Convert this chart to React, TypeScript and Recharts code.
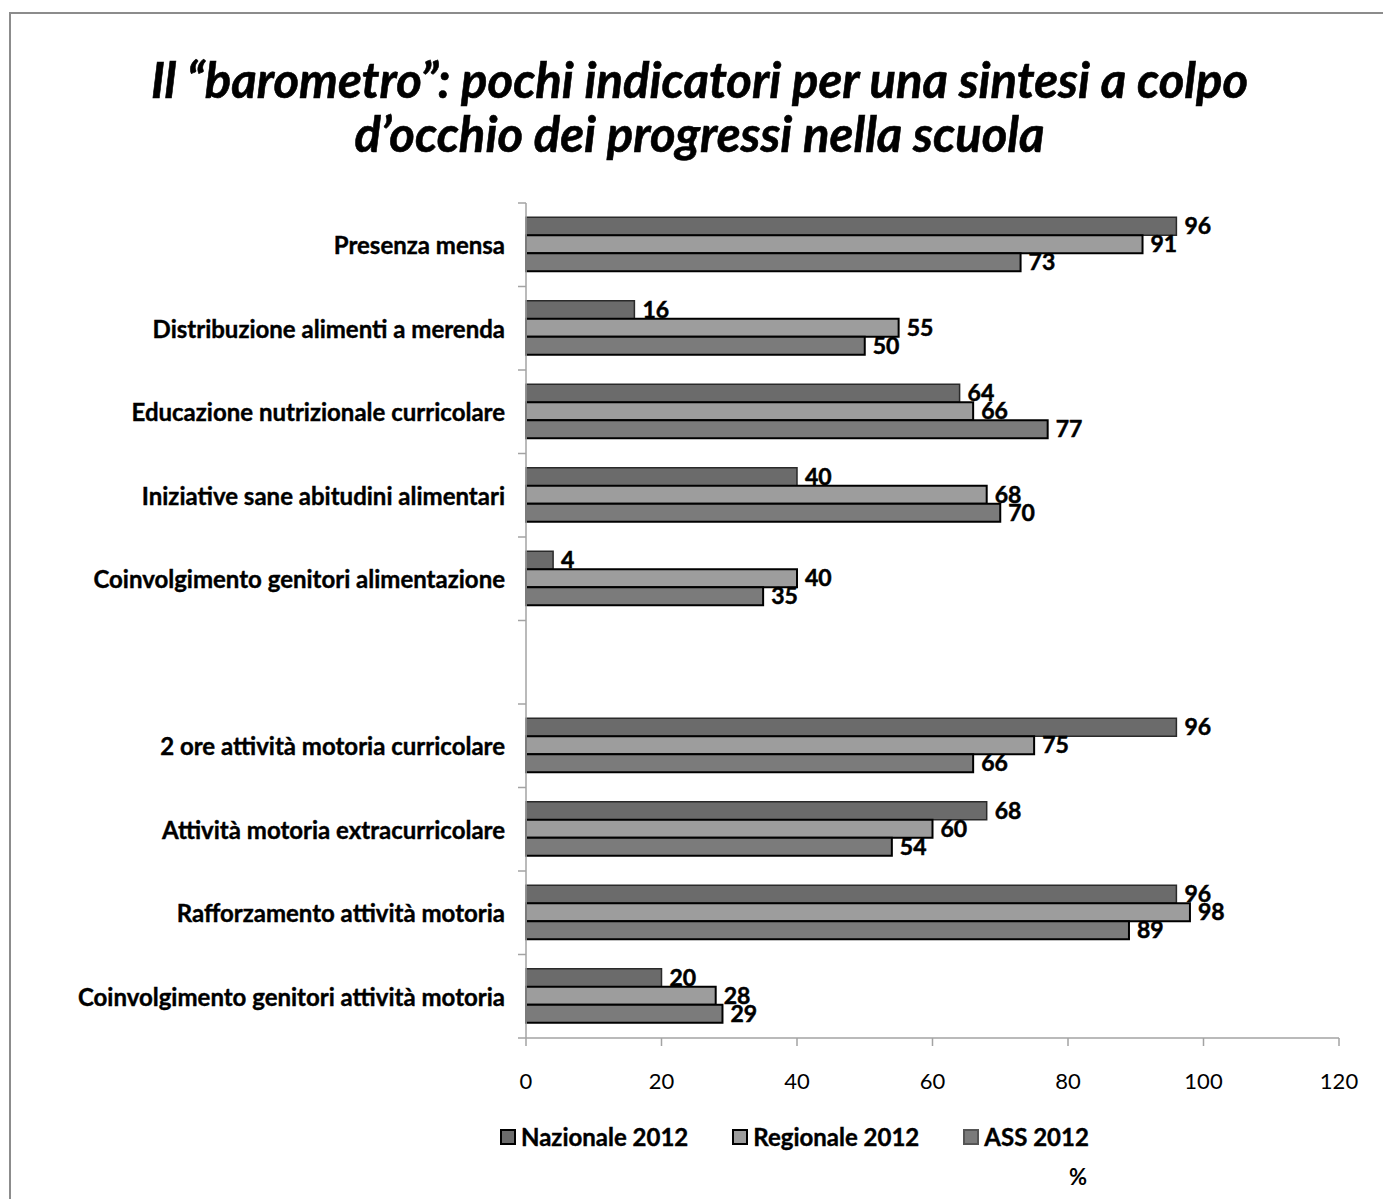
import React from "react";
import { BarChart, Bar, XAxis, YAxis, LabelList } from "recharts";

const categories = [
  "Presenza mensa",
  "Distribuzione alimenti a merenda",
  "Educazione nutrizionale curricolare",
  "Iniziative sane abitudini alimentari",
  "Coinvolgimento genitori alimentazione",
  " ",
  "2 ore attività motoria curricolare",
  "Attività motoria extracurricolare",
  "Rafforzamento attività motoria",
  "Coinvolgimento genitori attività motoria",
];
const nazionale: (number | null)[] = [96, 16, 64, 40, 4, null, 96, 68, 96, 20];
const regionale: (number | null)[] = [91, 55, 66, 68, 40, null, 75, 60, 98, 28];
const ass: (number | null)[] = [73, 50, 77, 70, 35, null, 66, 54, 89, 29];
const xTicks = [0, 20, 40, 60, 80, 100, 120];

const series = [
  { key: "nazionale", name: "Nazionale 2012", fill: "#6b6b6b", stroke: "#2a2a2a", sw: 1.5, legendBorder: "#000" },
  { key: "regionale", name: "Regionale 2012", fill: "#9d9d9d", stroke: "#000000", sw: 2, legendBorder: "#000" },
  { key: "ass", name: "ASS 2012", fill: "#7b7b7b", stroke: "#000000", sw: 2, legendBorder: "#555" },
];

const data = categories.map((name, i) => ({
  name,
  nazionale: nazionale[i],
  regionale: regionale[i],
  ass: ass[i],
}));

const FONT = "Lato, 'Open Sans', sans-serif";
const AXIS = "#a3a3a3";

const YTick = (props: any) => {
  const { x, y, payload, index, visibleTicksCount, height } = props;
  const half = payload.offset || height / visibleTicksCount / 2;
  return (
    <g>
      <line x1={x - 8} x2={x} y1={y - half} y2={y - half} stroke={AXIS} strokeWidth={1.5} />
      {index === visibleTicksCount - 1 && (
        <line x1={x - 8} x2={x} y1={y + half} y2={y + half} stroke={AXIS} strokeWidth={1.5} />
      )}
      <text
        x={x - 21}
        y={y}
        textAnchor="end"
        dominantBaseline="central"
        fontFamily={FONT}
        fontWeight={700}
        fontSize={24}
        fill="#000"
        stroke="#000"
        strokeWidth={0.4}
      >
        {payload.value}
      </text>
    </g>
  );
};

const LegendBox = () => (
  <div
    style={{
      position: "absolute",
      left: 492,
      top: 1114,
      display: "flex",
      alignItems: "center",
      fontFamily: FONT,
      fontWeight: 700,
      fontSize: 24,
      color: "#000",
      whiteSpace: "nowrap",
      WebkitTextStroke: "0.4px #000",
    }}
  >
    {series.map((s, i) => (
      <div key={s.key} style={{ display: "flex", alignItems: "center", marginRight: i < 2 ? 44 : 0 }}>
        <div
          style={{
            width: 12,
            height: 12,
            background: s.fill,
            border: `2px solid ${s.legendBorder}`,
            marginRight: 5,
          }}
        />
        <span>{s.name}</span>
      </div>
    ))}
  </div>
);

export default function App() {
  return (
    <div style={{ position: "relative", width: 1383, height: 1191, overflow: "hidden", background: "#fff" }}>
      <div
        style={{
          position: "absolute",
          left: 1,
          top: 4,
          width: 1500,
          height: 1400,
          border: "2px solid #8c8c8c",
        }}
      />
      <div
        style={{
          position: "absolute",
          left: 0,
          top: 44,
          width: 1383,
          textAlign: "center",
          fontFamily: FONT,
          fontStyle: "italic",
          fontWeight: 700,
          fontSize: 49,
          lineHeight: "54px",
          color: "#000",
          WebkitTextStroke: "0.6px #000",
        }}
      >
        Il “barometro”: pochi indicatori per una sintesi a colpo
        <br />
        d’occhio dei progressi nella scuola
      </div>
      <div style={{ position: "absolute", left: 0, top: 0 }}>
        <BarChart
          width={1383}
          height={1191}
          data={data}
          layout="vertical"
          margin={{ top: 195, right: 52, left: 0, bottom: 121 }}
          barCategoryGap="17%"
          barGap={0}
        >
          <XAxis
            type="number"
            domain={[0, 120]}
            ticks={xTicks}
            height={40}
            axisLine={{ stroke: AXIS, strokeWidth: 1.5 }}
            tickLine={{ stroke: AXIS, strokeWidth: 1.5 }}
            tickSize={8}
            tickMargin={27}
            tick={{ fill: "#000", fontSize: 22, fontFamily: FONT }}
          />
          <YAxis
            type="category"
            dataKey="name"
            width={518}
            axisLine={{ stroke: AXIS, strokeWidth: 1.5 }}
            tickLine={false}
            tickSize={0}
            tickMargin={0}
            interval={0}
            tick={<YTick />}
          />
          {series.map((s) => (
            <Bar
              key={s.key}
              dataKey={s.key}
              name={s.name}
              fill={s.fill}
              stroke={s.stroke}
              strokeWidth={s.sw}
              isAnimationActive={false}
            >
              <LabelList
                dataKey={s.key}
                position="right"
                offset={8}
                fill="#000"
                stroke="#000"
                strokeWidth={0.5}
                fontWeight={700}
                fontSize={23}
                fontFamily={FONT}
              />
            </Bar>
          ))}
        </BarChart>
      </div>
      <LegendBox />
      <div
        style={{
          position: "absolute",
          left: 1060,
          top: 1155,
          width: 20,
          textAlign: "center",
          fontFamily: FONT,
          fontWeight: 700,
          fontSize: 22,
          color: "#000",
        }}
      >
        %
      </div>
    </div>
  );
}
